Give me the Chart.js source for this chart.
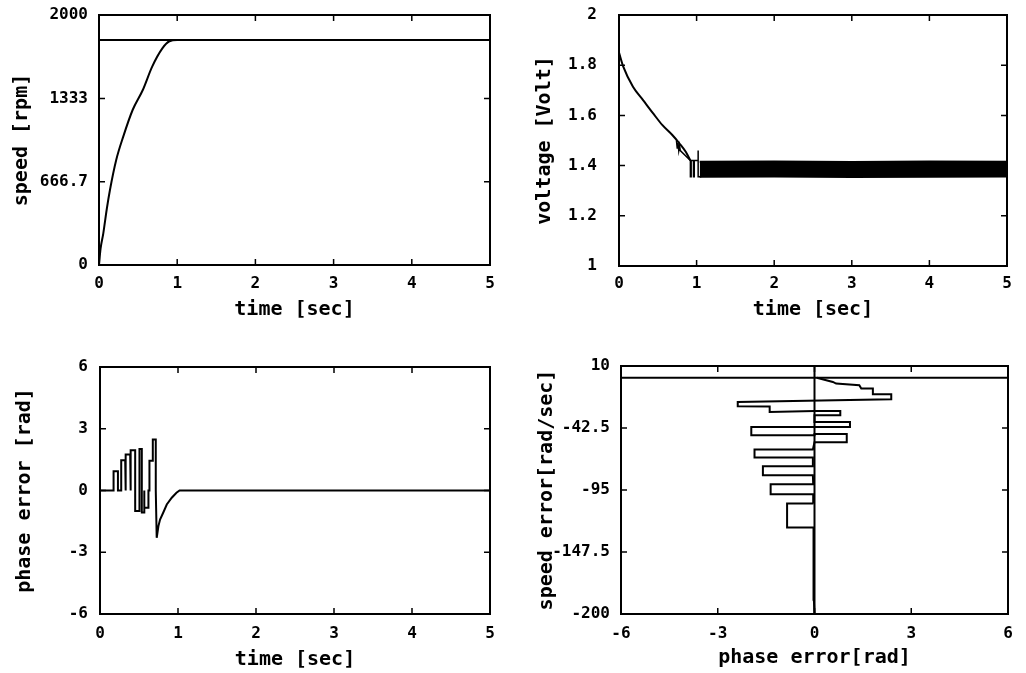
<!DOCTYPE html>
<html>
<head>
<meta charset="utf-8">
<script src="https://cdn.jsdelivr.net/npm/chart.js@4.4.0/dist/chart.umd.min.js"></script>
<style>
    body { margin: 0; background: #fff; }
    #wrap { position: relative; width: 1026px; height: 673px; background: #fff; }
    canvas { position: absolute; }
</style>
</head>
<body>
<div id="wrap">
    <canvas id="speedChart" width="513" height="336" style="left:0;top:0"></canvas>
    <canvas id="voltageChart" width="513" height="336" style="left:513px;top:0"></canvas>
    <canvas id="phaseChart" width="513" height="337" style="left:0;top:336px"></canvas>
    <canvas id="planeChart" width="513" height="337" style="left:513px;top:336px"></canvas>
</div>
<script>
// tick values / labels
const timeTicks = [0, 1, 2, 3, 4, 5];
const speedTicks = [0, 666.7, 1333, 2000];
const speedTickLabels = ['0', '666.7', '1333', '2000'];
const voltTicks = [1, 1.2, 1.4, 1.6, 1.8, 2];
const voltTickLabels = ['1', '1.2', '1.4', '1.6', '1.8', '2'];
const phaseTicks = [-6, -3, 0, 3, 6];
const speedErrTicks = [-200, -147.5, -95, -42.5, 10];
const speedErrTickLabels = ['-200', '-147.5', '-95', '-42.5', '10'];

// speed [rpm] vs time
const speedTime = [0, 0.02, 0.055, 0.1, 0.14, 0.22, 0.31, 0.43, 0.56, 0.68, 0.81, 0.9, 1.0, 5];
const speedRpm = [0, 130, 253, 450, 600, 840, 1027, 1240, 1400, 1587, 1733, 1790, 1800, 1800];
const speedRefTime = [0, 5];
const speedRef = [1800, 1800];

// voltage vs time
const voltTime = [0, 0.055, 0.18, 0.31, 0.44, 0.56, 0.69, 0.78, 0.86, 0.92];
const voltValue = [1.85, 1.794, 1.714, 1.661, 1.608, 1.561, 1.521, 1.488, 1.455, 1.42];
const voltSpikeTime = [0.74, 0.75, 0.76, 0.77, 0.78, 0.79, 0.92, 0.92, 0.93, 0.93, 0.96, 0.96, 0.97, 0.97, 1.02, 1.02, 1.02, 1.06];
const voltSpikeValue = [1.5, 1.47, 1.49, 1.46, 1.48, 1.46, 1.42, 1.356, 1.356, 1.42, 1.42, 1.356, 1.356, 1.42, 1.42, 1.46, 1.356, 1.356];
const voltBandTime = [1.04, 2, 3, 4, 5];
const voltBandHigh = [1.415, 1.416, 1.414, 1.416, 1.415];
const voltBandLow = [1.356, 1.357, 1.355, 1.356, 1.357];

// phase error [rad] vs time
const phaseTime = [0, 0.174, 0.174, 0.23, 0.23, 0.272, 0.272, 0.323, 0.323, 0.332, 0.332, 0.387, 0.387,
    0.396, 0.396, 0.451, 0.451, 0.506, 0.506, 0.536, 0.536, 0.566, 0.566, 0.57, 0.621, 0.621, 0.634, 0.634,
    0.677, 0.677, 0.715, 0.715, 0.727, 0.749, 0.77, 0.81, 0.856, 0.92, 0.98, 1.02, 5];
const phaseValue = [0, 0, 0.94, 0.94, 0, 0, 1.47, 1.47, 0, 0, 1.75, 1.75, 0,
    0, 1.96, 1.96, -1.0, -1.0, 2.02, 2.02, -1.07, -1.07, 0, -0.84, -0.84, 0, 0, 1.45,
    1.45, 2.48, 2.48, 0, -2.3, -1.73, -1.41, -1.08, -0.68, -0.35, -0.11, 0, 0];

// phase plane: phase error [rad] vs speed error [rad/sec]
const planePhase = [0, -0.02, -0.03, -0.85, -0.85, -0.03, -0.04, -1.36, -1.36, -0.04, -0.05, -1.6, -1.6, -0.05,
    -0.05, -1.86, -1.86, -0.05, 0, 1.0, 1.0, 0, 0, -1.96, -1.96, 0, 1.1, 1.1, 0,
    0, 0.8, 0.8, 0, -1.39, -1.39, -2.38, -2.38, 2.38, 2.38, 1.81, 1.81, 1.45, 1.39, 0.67, 0.57, 0.07];
const planeSpeedErr = [-200, -188, -126.7, -126.7, -106.4, -106.4, -98.5, -98.5, -90.1, -90.1, -82.5, -82.5, -74.9, -74.9,
    -67.5, -67.5, -60.7, -60.7, -54.5, -54.5, -47.5, -47.5, -48.6, -48.6, -41.6, -41.6, -41.6, -37.4, -37.4,
    -31.7, -31.7, -28, -28, -28.9, -24.3, -24.1, -20.5, -18.2, -14, -14, -9.1, -9.1, -6.3, -4.9, -3.5, 0];
const planeAxisX = [-6, 6];
const planeAxisY = [-200, 10];

Chart.defaults.font.family = "'DejaVu Sans Mono', monospace";
Chart.defaults.font.size = 16;
Chart.defaults.font.weight = 'bold';
Chart.defaults.color = '#000';

const titleFont = { size: 20, weight: 'bold' };

function pts(xs, ys) {
    return xs.map((x, i) => ({ x: x, y: ys[i] }));
}

// box + inward ticks on all four sides
const framePlugin = {
    id: 'framePlugin',
    afterDatasetsDraw(chart) {
        const { ctx, chartArea: { left, right, top, bottom }, scales: { x, y } } = chart;
        ctx.save();
        ctx.strokeStyle = '#000';
        ctx.lineWidth = 1.5;
        ctx.beginPath();
        x.ticks.forEach(t => {
            const px = x.getPixelForValue(t.value);
            if (px < left + 2 || px > right - 2) return;
            ctx.moveTo(px, bottom); ctx.lineTo(px, bottom - 6);
            ctx.moveTo(px, top); ctx.lineTo(px, top + 6);
        });
        y.ticks.forEach(t => {
            const py = y.getPixelForValue(t.value);
            if (py < top + 2 || py > bottom - 2) return;
            ctx.moveTo(left, py); ctx.lineTo(left + 6, py);
            ctx.moveTo(right, py); ctx.lineTo(right - 6, py);
        });
        ctx.stroke();
        ctx.lineWidth = 2;
        ctx.strokeRect(left, top, right - left, bottom - top);
        ctx.restore();
    }
};

function lineSet(data, extra) {
    return Object.assign({
        data: data,
        showLine: true,
        borderColor: '#000',
        backgroundColor: '#000',
        borderWidth: 2,
        pointRadius: 0,
        fill: false,
        tension: 0
    }, extra || {});
}

function makeChart(id, type, datasets, s) {
    const el = document.getElementById(id);
    return new Chart(el, {
        type: type,
        data: { datasets: datasets },
        options: {
            responsive: false,
            animation: false,
            devicePixelRatio: 1,
            layout: { padding: { top: s.padTop, right: s.padRight, left: 0, bottom: 0 } },
            plugins: { legend: { display: false }, tooltip: { enabled: false } },
            scales: {
                x: {
                    type: 'linear',
                    min: s.xMin, max: s.xMax,
                    grid: { display: false, drawTicks: false },
                    border: { display: false },
                    afterBuildTicks: scale => { scale.ticks = s.xTicks.map(v => ({ value: v })); },
                    afterFit: scale => {
                        scale.height = s.xHeight;
                        scale.paddingLeft = 0;
                        scale.paddingRight = 0;
                    },
                    ticks: {
                        autoSkip: false, maxRotation: 0, padding: s.xTickPad,
                        callback: (v, i) => s.xLabels[i]
                    },
                    title: { display: true, text: s.xTitle, font: titleFont, padding: { top: 0, bottom: s.xTitlePad } }
                },
                y: {
                    type: 'linear',
                    min: s.yMin, max: s.yMax,
                    grid: { display: false, drawTicks: false },
                    border: { display: false },
                    afterBuildTicks: scale => { scale.ticks = s.yTicks.map(v => ({ value: v })); },
                    afterFit: scale => {
                        scale.width = s.yWidth;
                        scale.paddingTop = 0;
                        scale.paddingBottom = 0;
                    },
                    ticks: {
                        autoSkip: false, padding: s.yTickPad,
                        callback: (v, i) => s.yLabels[i]
                    },
                    title: { display: true, text: s.yTitle, font: titleFont, padding: { top: s.yTitlePad, bottom: 0 } }
                }
            }
        },
        plugins: [framePlugin]
    });
}

function createSpeedChart() {
    makeChart('speedChart', 'line', [
        lineSet(pts(speedRefTime, speedRef)),
        lineSet(pts(speedTime, speedRpm), { cubicInterpolationMode: 'monotone' })
    ], {
        xMin: 0, xMax: 5, xTicks: timeTicks, xLabels: timeTicks.map(String),
        yMin: 0, yMax: 2000, yTicks: speedTicks, yLabels: speedTickLabels,
        xTitle: 'time [sec]', yTitle: 'speed [rpm]',
        padTop: 15, padRight: 23, yWidth: 99, xHeight: 71,
        xTickPad: 9, yTickPad: 11, xTitlePad: 14, yTitlePad: 10
    });
}

function createVoltageChart() {
    makeChart('voltageChart', 'line', [
        lineSet(pts(voltTime, voltValue), { cubicInterpolationMode: 'monotone' }),
        lineSet(pts(voltSpikeTime, voltSpikeValue), { borderWidth: 1.5 }),
        lineSet(pts(voltBandTime, voltBandHigh), { fill: '+1' }),
        lineSet(pts(voltBandTime, voltBandLow))
    ], {
        xMin: 0, xMax: 5, xTicks: timeTicks, xLabels: timeTicks.map(String),
        yMin: 1, yMax: 2, yTicks: voltTicks, yLabels: voltTickLabels,
        xTitle: 'time [sec]', yTitle: 'voltage [Volt]',
        padTop: 15, padRight: 19, yWidth: 106, xHeight: 70,
        xTickPad: 8, yTickPad: 22, xTitlePad: 14, yTitlePad: 20
    });
}

function createPhaseChart() {
    makeChart('phaseChart', 'line', [
        lineSet(pts(phaseTime, phaseValue))
    ], {
        xMin: 0, xMax: 5, xTicks: timeTicks, xLabels: timeTicks.map(String),
        yMin: -6, yMax: 6, yTicks: phaseTicks, yLabels: phaseTicks.map(String),
        xTitle: 'time [sec]', yTitle: 'phase error [rad]',
        padTop: 31, padRight: 23, yWidth: 100, xHeight: 59,
        xTickPad: 10, yTickPad: 12, xTitlePad: 1, yTitlePad: 13
    });
}

function createPlaneChart() {
    makeChart('planeChart', 'scatter', [
        lineSet(pts(planeAxisX, [0, 0])),
        lineSet(pts([0, 0], planeAxisY)),
        lineSet(pts(planePhase, planeSpeedErr))
    ], {
        xMin: -6, xMax: 6, xTicks: phaseTicks, xLabels: phaseTicks.map(String),
        yMin: -200, yMax: 10, yTicks: speedErrTicks, yLabels: speedErrTickLabels,
        xTitle: 'phase error[rad]', yTitle: 'speed error[rad/sec]',
        padTop: 30, padRight: 18, yWidth: 108, xHeight: 59,
        xTickPad: 10, yTickPad: 11, xTitlePad: 3, yTitlePad: 22
    });
}

createSpeedChart();
createVoltageChart();
createPhaseChart();
createPlaneChart();
</script>
</body>
</html>
